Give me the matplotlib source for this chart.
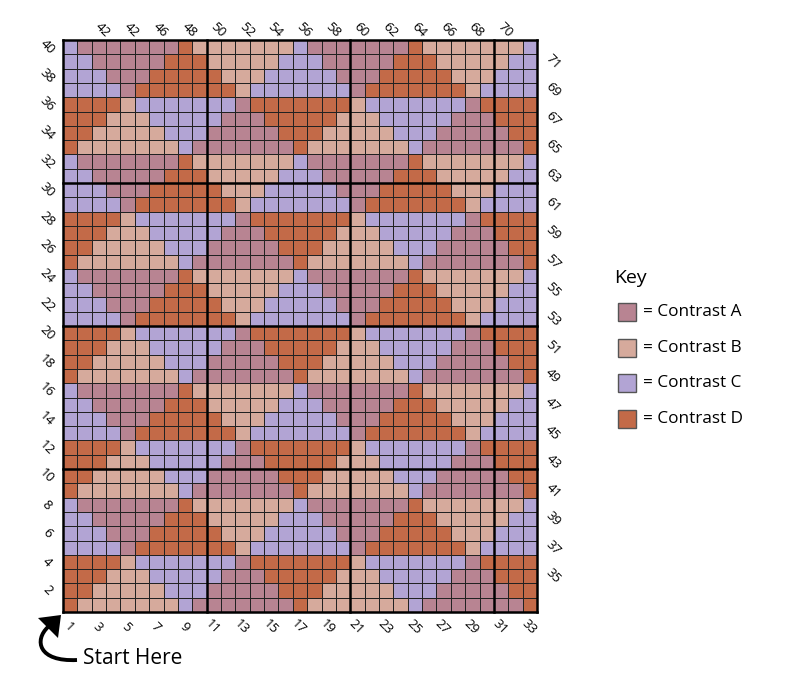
import matplotlib
matplotlib.use('Agg')
import matplotlib.pyplot as plt
from matplotlib.colors import ListedColormap
from matplotlib.patches import Rectangle, PathPatch, Polygon
from matplotlib.path import Path
import numpy as np

# chart rows, top row (40) first, columns 1..33
chart_rows = [
    'CAAAAAAADBBBBBBBCAAAAAAADBBBBBBBC',  # 40
    'CCAAAAADDDBBBBBCCCAAAAADDDBBBBBCC',  # 39
    'CCCAAADDDDDBBBCCCCCAAADDDDDBBBCCC',  # 38
    'CCCCADDDDDDDBCCCCCCCADDDDDDDBCCCC',  # 37
    'DDDDBCCCCCCCADDDDDDDBCCCCCCCADDDD',  # 36
    'DDDBBBCCCCCAAADDDDDBBBCCCCCAAADDD',  # 35
    'DDBBBBBCCCAAAAADDDBBBBBCCCAAAAADD',  # 34
    'DBBBBBBBCAAAAAAADBBBBBBBCAAAAAAAD',  # 33
    'CAAAAAAADBBBBBBBCAAAAAAADBBBBBBBC',  # 32
    'CCAAAAADDDBBBBBCCCAAAAADDDBBBBBCC',  # 31
    'CCCAAADDDDDBBBCCCCCAAADDDDDBBBCCC',  # 30
    'CCCCADDDDDDDBCCCCCCCADDDDDDDBCCCC',  # 29
    'DDDDBCCCCCCCADDDDDDDBCCCCCCCADDDD',  # 28
    'DDDBBBCCCCCAAADDDDDBBBCCCCCAAADDD',  # 27
    'DDBBBBBCCCAAAAADDDBBBBBCCCAAAAADD',  # 26
    'DBBBBBBBCAAAAAAADBBBBBBBCAAAAAAAD',  # 25
    'CAAAAAAADBBBBBBBCAAAAAAADBBBBBBBC',  # 24
    'CCAAAAADDDBBBBBCCCAAAAADDDBBBBBCC',  # 23
    'CCCAAADDDDDBBBCCCCCAAADDDDDBBBCCC',  # 22
    'CCCCADDDDDDDBCCCCCCCADDDDDDDBCCCC',  # 21
    'DDDDBCCCCCCCADDDDDDDBCCCCCCCADDDD',  # 20
    'DDDBBBCCCCCAAADDDDDBBBCCCCCAAADDD',  # 19
    'DDBBBBBCCCAAAAADDDBBBBBCCCAAAAADD',  # 18
    'DBBBBBBBCAAAAAAADBBBBBBBCAAAAAAAD',  # 17
    'CAAAAAAADBBBBBBBCAAAAAAADBBBBBBBC',  # 16
    'CCAAAAADDDBBBBBCCCAAAAADDDBBBBBCC',  # 15
    'CCCAAADDDDDBBBCCCCCAAADDDDDBBBCCC',  # 14
    'CCCCADDDDDDDBCCCCCCCADDDDDDDBCCCC',  # 13
    'DDDDBCCCCCCCADDDDDDDBCCCCCCCADDDD',  # 12
    'DDDBBBCCCCCAAADDDDDBBBCCCCCAAADDD',  # 11
    'DDBBBBBCCCAAAAADDDBBBBBCCCAAAAADD',  # 10
    'DBBBBBBBCAAAAAAADBBBBBBBCAAAAAAAD',  # 9
    'CAAAAAAADBBBBBBBCAAAAAAADBBBBBBBC',  # 8
    'CCAAAAADDDBBBBBCCCAAAAADDDBBBBBCC',  # 7
    'CCCAAADDDDDBBBCCCCCAAADDDDDBBBCCC',  # 6
    'CCCCADDDDDDDBCCCCCCCADDDDDDDBCCCC',  # 5
    'DDDDBCCCCCCCADDDDDDDBCCCCCCCADDDD',  # 4
    'DDDBBBCCCCCAAADDDDDBBBCCCCCAAADDD',  # 3
    'DDBBBBBCCCAAAAADDDBBBBBCCCAAAAADD',  # 2
    'DBBBBBBBCAAAAAAADBBBBBBBCAAAAAAAD',  # 1
]

colour_keys = ['A', 'B', 'C', 'D']
colour_hex = ['#b88492', '#d6aa9c', '#b2a4d4', '#c36a48']
key_labels = ['= Contrast A', '= Contrast B', '= Contrast C', '= Contrast D']

bottom_cols = [1, 3, 5, 7, 9, 11, 13, 15, 17, 19, 21, 23, 25, 27, 29, 31, 33]
left_rows = [2, 4, 6, 8, 10, 12, 14, 16, 18, 20, 22, 24, 26, 28, 30, 32, 34, 36, 38, 40]
right_rows = [3, 5, 7, 9, 11, 13, 15, 17, 19, 21, 23, 25, 27, 29, 31, 33, 35, 37, 39]
right_labels = ['35', '37', '39', '41', '43', '45', '47', '49', '51', '53',
                '55', '57', '59', '61', '63', '65', '67', '69', '71']
top_cols = [3, 5, 7, 9, 11, 13, 15, 17, 19, 21, 23, 25, 27, 29, 31]
top_labels = ['42', '42', '46', '48', '50', '52', '54', '56', '58', '60',
              '62', '64', '66', '68', '70']

plt.rcParams['font.family'] = ['Open Sans', 'DejaVu Sans']

W, H = 785, 679
fig = plt.figure(figsize=(W / 100, H / 100), dpi=100)

# overlay in pixel coordinates for the key and the start note
ov = fig.add_axes([0, 0, 1, 1])
ov.set_xlim(0, W)
ov.set_ylim(H, 0)
ov.axis('off')

ax = fig.add_axes([63 / W, 67 / H, 474 / W, 572 / H])
n_rows, n_cols = len(chart_rows), len(chart_rows[0])
grid = np.array([[colour_keys.index(ch) for ch in row] for row in chart_rows[::-1]])
cmap = ListedColormap(colour_hex)
ax.pcolormesh(np.arange(n_cols + 1), np.arange(n_rows + 1), grid, cmap=cmap,
              vmin=-0.5, vmax=3.5, edgecolors='#222222', linewidth=0.6)
ax.set_xlim(0, n_cols)
ax.set_ylim(0, n_rows)
ax.set_axis_off()

for x in [0, 10, 20, 30, n_cols]:
    ax.plot([x, x], [0, n_rows], color='black', lw=1.8, clip_on=False, solid_capstyle='projecting')
for y in [0, 10, 20, 30, n_rows]:
    ax.plot([0, n_cols], [y, y], color='black', lw=1.8, clip_on=False, solid_capstyle='projecting')

lab = dict(rotation=-45, ha='center', va='center', fontsize=9.5,
           textcoords='offset pixels', annotation_clip=False)
for c in bottom_cols:
    ax.annotate(str(c), xy=(c - 0.5, 0), xytext=(-1, -15), **lab)
for r in left_rows:
    ax.annotate(str(r), xy=(0, r - 0.5), xytext=(-16, 0), **lab)
for r, t in zip(right_rows, right_labels):
    ax.annotate(t, xy=(n_cols, r - 0.5), xytext=(16, 0), **lab)
for c, t in zip(top_cols, top_labels):
    ax.annotate(t, xy=(c - 0.5, n_rows), xytext=(4, 10), **lab)

# key
ov.text(614, 278, 'Key', fontsize=14, ha='left', va='center')
for i, (col, txt) in enumerate(zip(colour_hex, key_labels)):
    yc = 312 + i * 35.7
    ov.add_patch(Rectangle((618, yc - 9), 18, 18, facecolor=col, edgecolor='#555555', lw=1))
    ov.text(643, yc, txt, fontsize=12.3, ha='left', va='center')

# start note with curved arrow
ov.text(83, 659, 'Start Here', fontsize=15, ha='left', va='center')
shaft = Path([(77, 660), (38, 662), (34, 640), (48, 627)],
             [Path.MOVETO, Path.CURVE4, Path.CURVE4, Path.CURVE4])
ov.add_patch(PathPatch(shaft, facecolor='none', edgecolor='black', lw=2.8, capstyle='butt'))
ov.add_patch(Polygon([(38, 618), (61, 615), (58, 638)], closed=True, facecolor='black', edgecolor='none'))

fig.savefig('out.png', dpi=100)
